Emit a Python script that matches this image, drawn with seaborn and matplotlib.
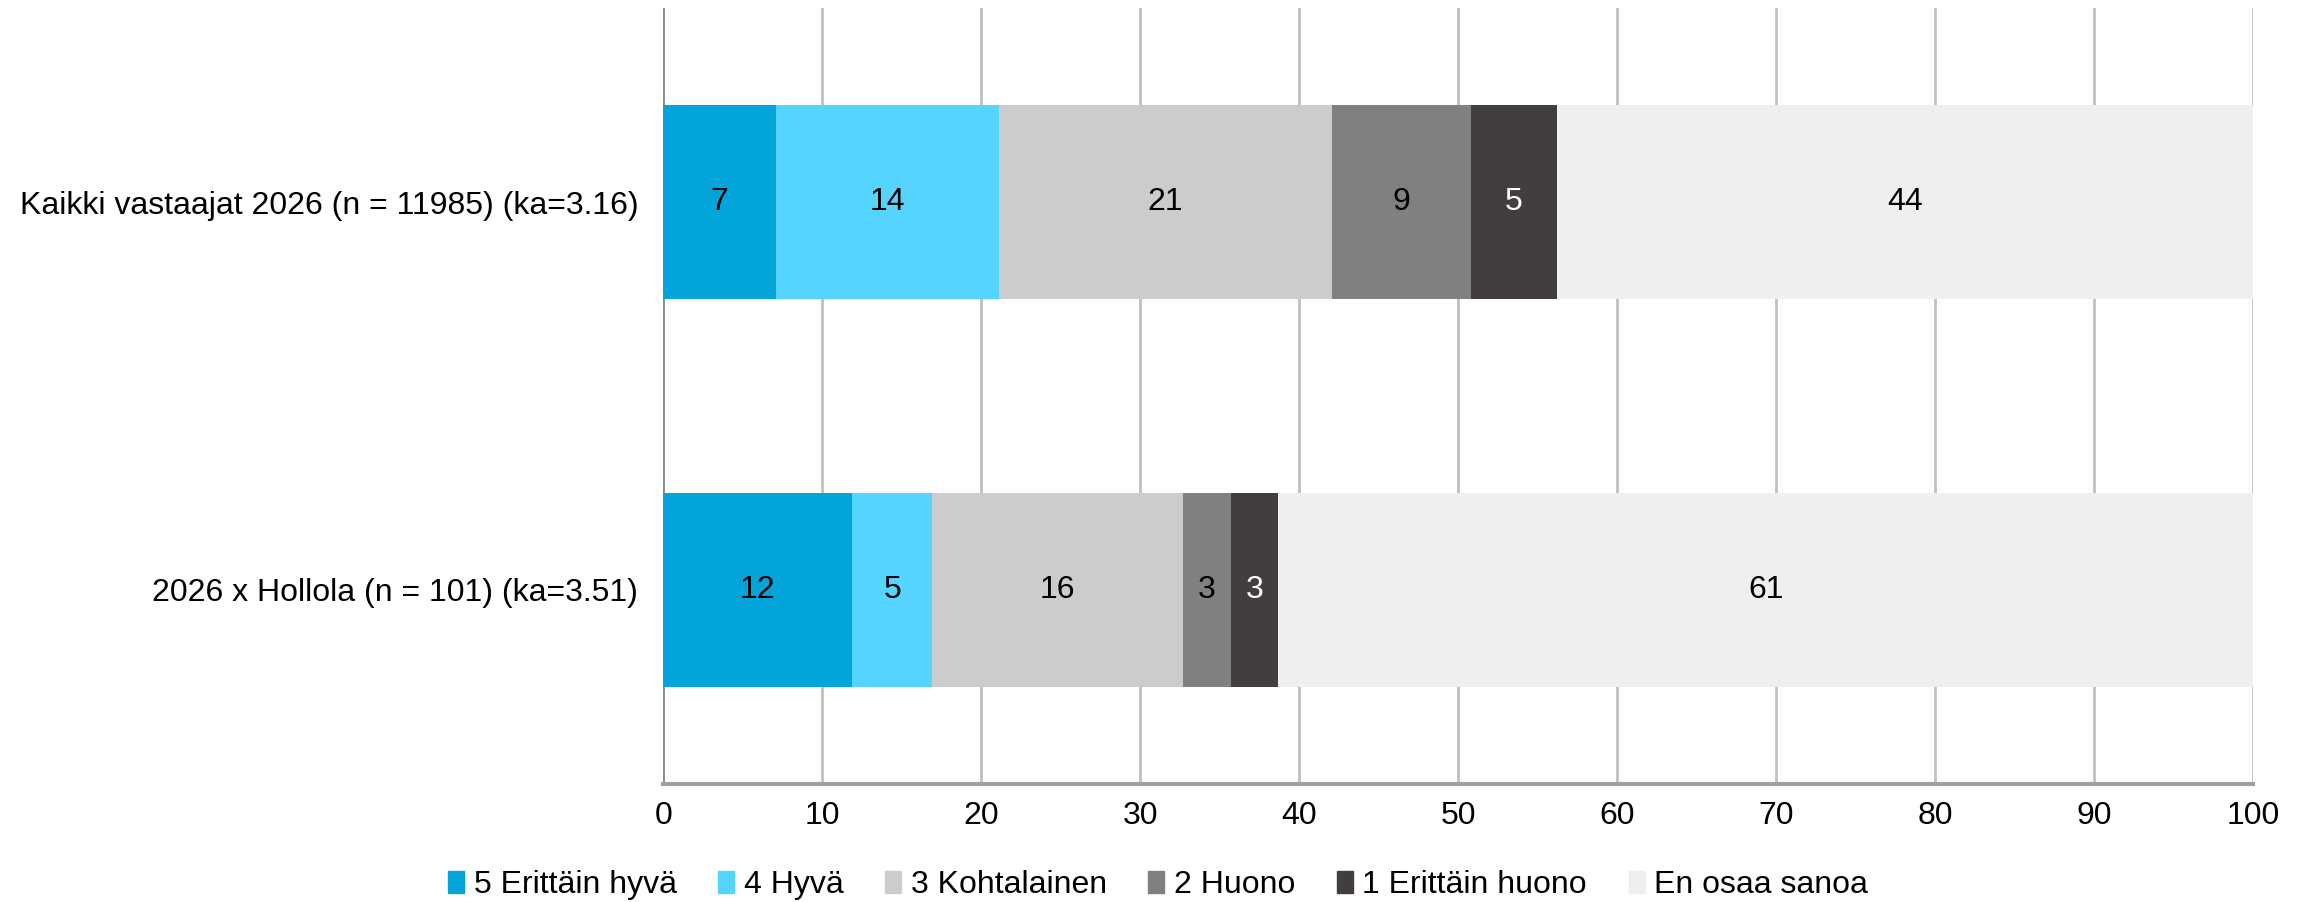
import numpy as np
import pandas as pd
import matplotlib
matplotlib.use("Agg")
import matplotlib.pyplot as plt
import seaborn as sns

groups = ["Kaikki vastaajat 2026 (n = 11985) (ka=3.16)",
          "2026 x Hollola (n = 101) (ka=3.51)"]
answers = ["5 Erittäin hyvä", "4 Hyvä", "3 Kohtalainen", "2 Huono",
           "1 Erittäin huono", "En osaa sanoa"]
all_resp = [7.1, 14.0, 21.0, 8.7, 5.4, 43.8]
hollola = [11.9, 5.0, 15.8, 3.0, 3.0, 61.4]
colors = ["#03a4d9", "#55d4ff", "#cccccc", "#808080", "#423e3f", "#efefef"]
label_colors = ["black", "black", "black", "black", "white", "black"]

sns.set_style("white")
plt.rcParams["font.family"] = ["Liberation Sans", "DejaVu Sans"]
plt.rcParams["text.color"] = "black"
plt.rcParams["xtick.labelcolor"] = "black"
plt.rcParams["ytick.labelcolor"] = "black"

df = pd.DataFrame([all_resp, hollola], index=groups, columns=answers)
cum = df.cumsum(axis=1)

fig = plt.figure(figsize=(23.07, 9.02), dpi=100)
ax = fig.add_axes([0.2875, 0.131, 0.689, 0.86])

# draw cumulative bars from the longest to the shortest so they stack
for i in range(len(answers) - 1, -1, -1):
    col = answers[i]
    d = pd.DataFrame({"group": groups, "value": cum[col].values})
    sns.barplot(data=d, x="value", y="group", orient="h", color=colors[i],
                width=0.5, saturation=1, linewidth=0, ax=ax, zorder=3)

for gi, g in enumerate(groups):
    for i, col in enumerate(answers):
        v = df.loc[g, col]
        center = cum.loc[g, col] - v / 2
        ax.text(center, gi, f"{v:.0f}", ha="center", va="center",
                fontsize=23, color=label_colors[i], zorder=5)

ax.set_xlim(0, 100)
ax.set_ylim(1.5, -0.5)
ax.set_xticks(np.arange(0, 101, 10))
ax.xaxis.grid(True, color="#c0c0c0", linewidth=2, zorder=0)
ax.axvline(0, color="#8c8c8c", linewidth=2, zorder=1)
ax.set_xlabel("")
ax.set_ylabel("")
for s in ["top", "right", "left"]:
    ax.spines[s].set_visible(False)
ax.spines["bottom"].set_color("#a0a0a0")
ax.spines["bottom"].set_linewidth(3)
ax.tick_params(axis="x", direction="inout", length=16, width=1.5,
               color="#a0a0a0", labelsize=23, pad=4)
ax.tick_params(axis="y", length=0, labelsize=23, pad=18)

handles = [plt.Rectangle((0, 0), 1, 1, color=c) for c in colors]
fig.legend(handles, answers, loc="lower center", bbox_to_anchor=(0.502, -0.03),
           ncol=6, frameon=False, fontsize=23, handlelength=0.5,
           handleheight=0.7, handletextpad=0.3, columnspacing=1.3)

fig.savefig("out.png", dpi=100)
